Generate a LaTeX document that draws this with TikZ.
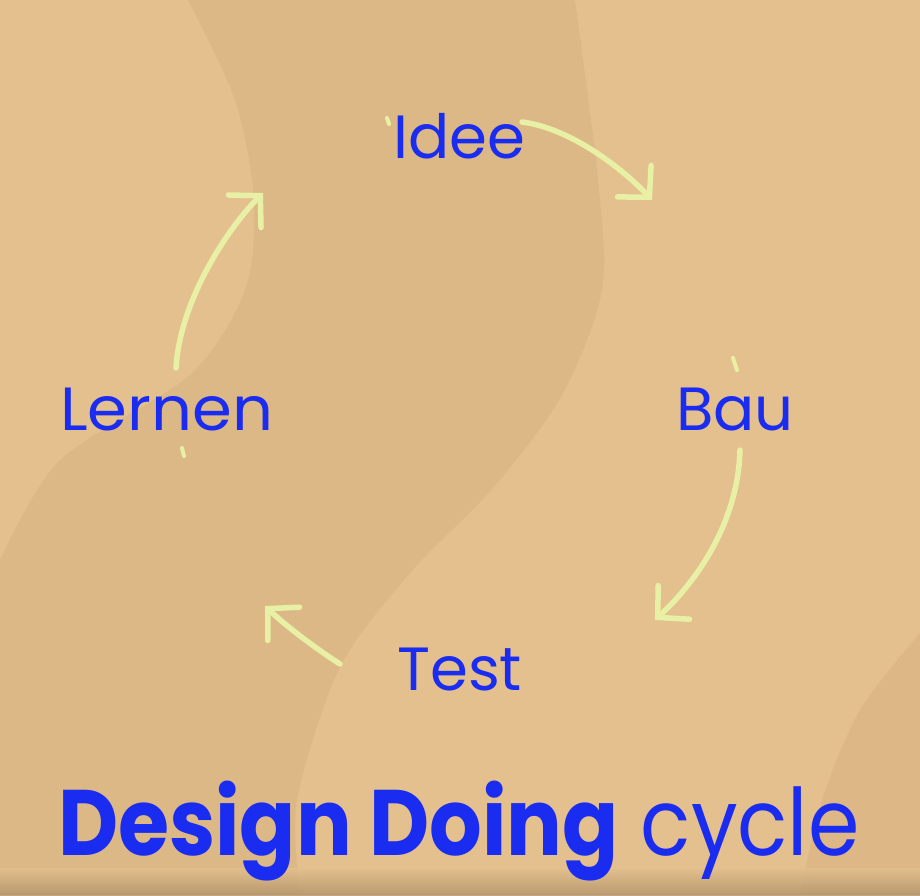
\documentclass[tikz,border=0pt]{standalone}
\usepackage{fontspec}
\setmainfont{Poppins}
\usetikzlibrary{arrows.meta}
\definecolor{tanlight}{RGB}{227,192,142}
\definecolor{tanband}{RGB}{220,184,134}
\definecolor{tandark}{RGB}{221,184,134}
\definecolor{tanbottom}{RGB}{175,145,105}
\definecolor{txtblue}{RGB}{26,44,240}
\definecolor{arrowcol}{RGB}{232,240,165}
\tikzset{
  lbl/.style={anchor=base west, inner sep=0pt, text=txtblue, font=\fontsize{61}{61}\selectfont},
  cyc/.style={draw=arrowcol, line width=5.5pt, line cap=round,
    -{Straight Barb[length=22pt,width=46pt,line width=5.5pt,line cap=round]}},
  tick/.style={draw=arrowcol, line width=4pt, line cap=round}
}
\begin{document}
\begin{tikzpicture}[x=1pt,y=-1pt]
\useasboundingbox (0,0) rectangle (920,895);
% background
\fill[tanlight] (0,0) rectangle (920,895);
\fill[tanband] plot[smooth] coordinates {(188,0) (235,100) (254,200) (245,290) (190,375) (60,460) (0,560)}
  -- (0,895) --
  plot[smooth] coordinates {(300,895) (297,800) (340,667) (411,572) (493,488) (562,395) (602,290) (598,180) (575,0)}
  -- cycle;
\fill[tandark] plot[smooth] coordinates {(920,633) (860,710) (822,800) (800,895)} -- (920,895) -- cycle;
\shade[top color=tanlight, bottom color=tanbottom, opacity=0.8] (0,868) rectangle (920,895);
% labels
\node[lbl] (idee) at (393,158) {Idee};
\node[lbl] (bau) at (676,430) {Bau};
\node[lbl] (test) at (397,690) {Test};
\node[lbl] (lernen) at (60,430) {\scalebox{1.05}[1]{Lernen}};
\node[anchor=base west, inner sep=0pt, text=txtblue, font=\fontsize{93}{93}\selectfont] (title) at (58,855)
  {\scalebox{0.89}[1]{\textbf{Design Doing} cycle}};
% connector coordinates
\coordinate (a1s) at (522,122); \coordinate (a1e) at (652,200);
\coordinate (a2s) at (740,450); \coordinate (a2e) at (655,620);
\coordinate (a3s) at (340,664); \coordinate (a3e) at (265,606);
\coordinate (a4s) at (176,368); \coordinate (a4e) at (263,193);
\draw[cyc] (a1s) .. controls (570,128) and (622,168) .. (a1e);
\draw[cyc] (a2s) .. controls (738,520) and (700,578) .. (a2e);
\draw[cyc] (a3s) .. controls (318,650) and (287,627) .. (a3e);
\draw[cyc] (a4s) .. controls (180,300) and (228,228) .. (a4e);
% small stubs
\coordinate (t1a) at (387,118); \coordinate (t1b) at (389,124);
\coordinate (t2a) at (733,358); \coordinate (t2b) at (737,370);
\coordinate (t3a) at (182,448); \coordinate (t3b) at (184,456);
\draw[tick] (t1a) -- (t1b);
\draw[tick] (t2a) -- (t2b);
\draw[tick] (t3a) -- (t3b);
\end{tikzpicture}
\end{document}
